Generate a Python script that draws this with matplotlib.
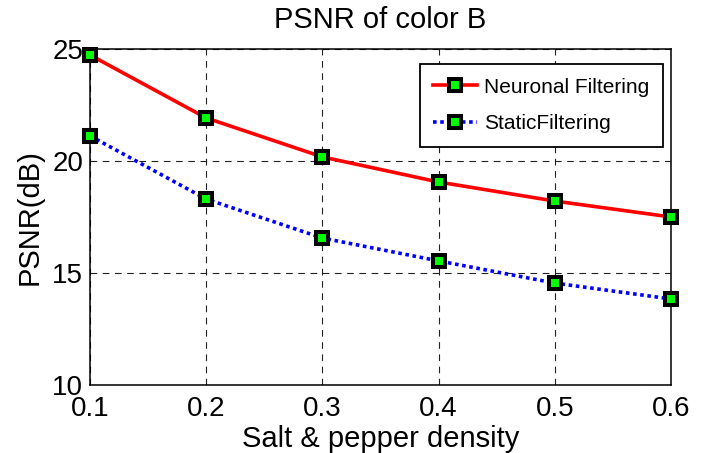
import matplotlib
matplotlib.use('Agg')
import matplotlib.pyplot as plt

plt.rcParams['font.family'] = ['Liberation Sans', 'DejaVu Sans']

density = [0.1, 0.2, 0.3, 0.4, 0.5, 0.6]
neuronal = [24.73, 21.92, 20.18, 19.06, 18.21, 17.5]
static = [21.12, 18.3, 16.56, 15.54, 14.55, 13.84]

fig = plt.figure(figsize=(7.14, 4.53), dpi=100)
ax = fig.add_axes([0.126, 0.150, 0.814, 0.742])

# square markers: black rim, green centre (MATLAB look)
mk = dict(marker='s', markersize=8, markerfacecolor='#00ff00',
          markeredgecolor='black', markeredgewidth=2.9, clip_on=False, zorder=5)
ax.plot(density, neuronal, color='red', linewidth=2.6, label='Neuronal Filtering', **mk)
ax.plot(density, static, color='blue', linewidth=2.6, linestyle=(0, (1, 1)),
        label='StaticFiltering', **mk)

ax.set_xlim(0.1, 0.6)
ax.set_ylim(10, 25)
ax.set_xticks(density)
ax.set_xticklabels(['0.1', '0.2', '0.3', '0.4', '0.5', '0.6'])
ax.set_yticks([10, 15, 20, 25])
ax.tick_params(labelsize=20, direction='in', length=0)
ax.tick_params(axis='x', pad=8)
ax.tick_params(axis='y', pad=5)
ax.grid(True, color='#222222', linestyle=(0, (6, 5)), linewidth=0.8)
for s in ax.spines.values():
    s.set_linewidth(1.1)

ax.set_xlabel('Salt & pepper density', fontsize=21, labelpad=2)
ax.set_ylabel('PSNR(dB)', fontsize=21, labelpad=6)
ax.set_title('PSNR of color B', fontsize=21, pad=15)

leg = ax.legend(loc='upper right', bbox_to_anchor=(0.986, 0.955), borderaxespad=0,
                fontsize=15, fancybox=False, framealpha=1, edgecolor='black',
                borderpad=0.65, labelspacing=0.85, handlelength=2.1,
                handletextpad=0.35)
leg.get_frame().set_linewidth(1.3)

fig.savefig('out.png', dpi=100)
